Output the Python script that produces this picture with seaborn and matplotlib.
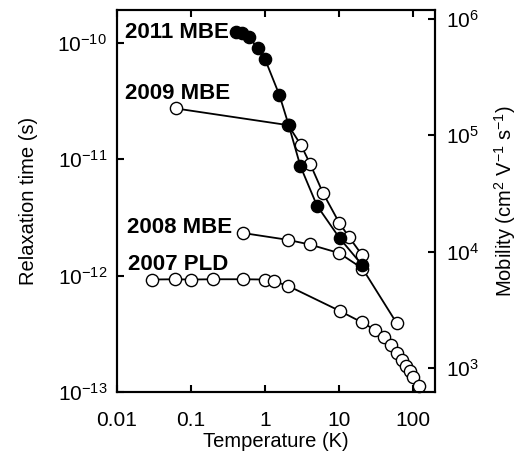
import numpy as np
import pandas as pd
import matplotlib
matplotlib.use("Agg")
import matplotlib.pyplot as plt
import seaborn as sns
from matplotlib.ticker import NullLocator, FixedLocator

# ---- data (Temperature K, relaxation time s) ----
t2011 = [0.40, 0.49, 0.60, 0.80, 1.0, 1.56, 2.08, 3.0, 5.0, 10.1, 20.2]
tau2011 = [1.25e-10, 1.21e-10, 1.12e-10, 9.0e-11, 7.2e-11, 3.55e-11, 1.96e-11,
           8.67e-12, 4.0e-12, 2.1e-12, 1.24e-12]

t2009 = [0.062, 2.05, 3.03, 4.07, 6.03, 10.0, 13.5, 20.2]
tau2009 = [2.73e-11, 1.96e-11, 1.33e-11, 9.06e-12, 5.13e-12, 2.84e-12, 2.15e-12, 1.51e-12]

t2008 = [0.506, 2.01, 4.0, 10.0, 20.6, 59.8]
tau2008 = [2.32e-12, 2.03e-12, 1.85e-12, 1.56e-12, 1.15e-12, 3.89e-13]

t2007 = [0.030, 0.060, 0.099, 0.20, 0.506, 0.99, 1.31, 2.04,
         10.3, 20.1, 30.5, 40.4, 49.7, 59.8, 69.8, 79.8, 90.3, 100, 120]
tau2007 = [9.25e-13, 9.3e-13, 9.25e-13, 9.3e-13, 9.3e-13, 9.25e-13, 8.93e-13, 8.16e-13,
           4.95e-13, 3.97e-13, 3.41e-13, 2.94e-13, 2.51e-13, 2.15e-13, 1.89e-13,
           1.66e-13, 1.50e-13, 1.34e-13, 1.12e-13]

labels = ["2011 MBE", "2009 MBE", "2008 MBE", "2007 PLD"]
x_ticks = [0.01, 0.1, 1, 10, 100]
x_ticklabels = ["0.01", "0.1", "1", "10", "100"]
left_ticks = [1e-13, 1e-12, 1e-11, 1e-10]
right_ticks = [1e3, 1e4, 1e5, 1e6]

sns.set_style("ticks")
plt.rcParams['font.family'] = ['Liberation Sans', 'DejaVu Sans']
plt.rcParams['mathtext.fontset'] = 'custom'
plt.rcParams['mathtext.rm'] = 'Liberation Sans'
plt.rcParams['mathtext.default'] = 'regular'
for k in ['text.color', 'axes.labelcolor', 'xtick.color', 'ytick.color', 'axes.edgecolor']:
    plt.rcParams[k] = 'black'

fig = plt.figure(figsize=(5.29, 4.55), dpi=100)
ax = fig.add_axes([0.221, 0.1385, 0.601, 0.8405])

line_kw = dict(color='black', marker='o', markersize=8.8, markeredgecolor='black',
               markeredgewidth=1.0, linewidth=1.3, estimator=None, sort=False,
               clip_on=False, legend=False)

series = [
    (t2007, tau2007, 'white', 3),
    (t2008, tau2008, 'white', 4),
    (t2009, tau2009, 'white', 5),
    (t2011, tau2011, 'black', 6),
]
for xs, ys, fc, z in series:
    df = pd.DataFrame({"T": xs, "tau": ys})
    sns.lineplot(data=df, x="T", y="tau", ax=ax, markerfacecolor=fc, zorder=z, **line_kw)

ax.set_xscale('log')
ax.set_yscale('log')
ax.set_xlim(0.01, 195)
ax.set_ylim(1.0e-13, 1.93e-10)

ax.xaxis.set_major_locator(FixedLocator(x_ticks))
ax.set_xticklabels(x_ticklabels)
ax.xaxis.set_minor_locator(NullLocator())
ax.yaxis.set_major_locator(FixedLocator(left_ticks))
ax.set_yticklabels([r"$10^{%d}$" % int(np.log10(v)) for v in left_ticks])
ax.yaxis.set_minor_locator(NullLocator())

ax.tick_params(axis='x', direction='in', top=True, bottom=True, length=5, width=1.5,
               labelsize=15, pad=14)
ax.tick_params(axis='y', direction='in', left=True, right=False, length=5, width=1.5,
               labelsize=15, pad=7)
for s in ax.spines.values():
    s.set_linewidth(1.5)
    s.set_visible(True)

ax.set_xlabel("Temperature (K)", fontsize=14.5, labelpad=1)
ax.set_ylabel("Relaxation time (s)", fontsize=14.5, labelpad=14)

ax2 = ax.twinx()
ax2.set_yscale('log')
factor = 6.22e15
ax2.set_ylim(1.0e-13 * factor, 1.93e-10 * factor)
ax2.yaxis.set_major_locator(FixedLocator(right_ticks))
ax2.set_yticklabels([r"$10^{%d}$" % int(np.log10(v)) for v in right_ticks])
ax2.yaxis.set_minor_locator(NullLocator())
ax2.tick_params(axis='y', direction='in', length=5, width=1.5, labelsize=15, pad=8)
for s in ax2.spines.values():
    s.set_linewidth(1.5)
ax2.set_ylabel(r"Mobility (cm$^{2}$ V$^{-1}$ s$^{-1}$)", fontsize=14.5, labelpad=9)

text_pos = [(0.025, 0.939), (0.025, 0.780), (0.031, 0.429), (0.035, 0.333)]
for lab, (tx, ty) in zip(labels, text_pos):
    ax.text(tx, ty, lab, transform=ax.transAxes, fontsize=16, fontweight='bold',
            ha='left', va='center', zorder=10)

fig.savefig("out.png", dpi=100)
